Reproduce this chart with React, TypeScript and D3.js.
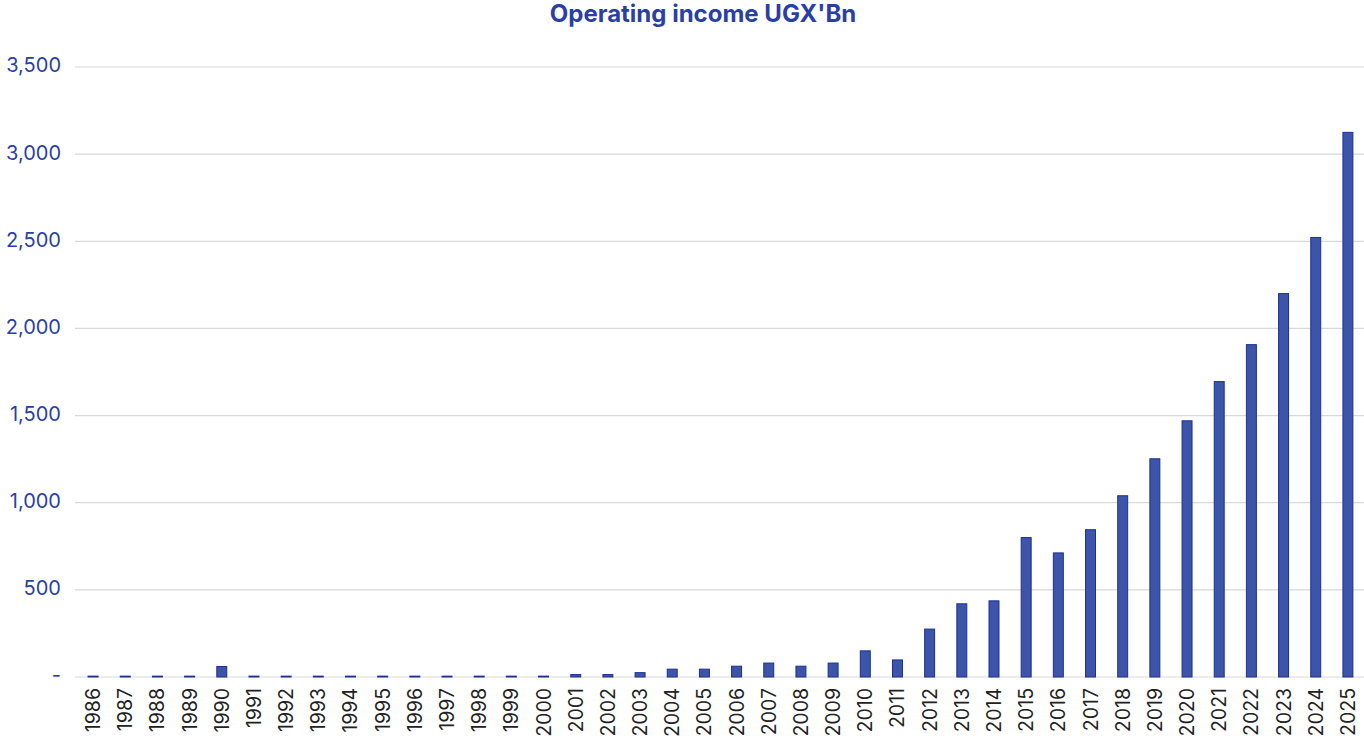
import * as d3 from 'd3';
import React from 'react';

const years = d3.range(1986, 2026).map(String);
const income = [
    5, 5, 5, 5, 60, 5, 5, 5, 5, 5, 5, 5, 5, 5, 5, 14, 14, 25, 45, 45, 62, 80,
    62, 80, 150, 98, 275, 420, 437, 800, 712, 845, 1040, 1252, 1470, 1695,
    1907, 2200, 2522, 3125,
];
const yTicks = [0, 500, 1000, 1500, 2000, 2500, 3000, 3500];

const width = 1364;
const height = 744;
const marginLeft = 77;
const marginRight = 0;
const baseY = 677;
const topY = 67;

const App = () => {
    const x = d3
        .scaleBand()
        .domain(years)
        .range([marginLeft, width - marginRight])
        .paddingInner(0.69)
        .paddingOuter(0.345);
    const y = d3.scaleLinear().domain([0, 3500]).range([baseY, topY]);
    const fmt = d3.format(',');

    return (
        <svg
            width={width}
            height={height}
            style={{ position: 'absolute', left: 0, top: 0, fontFamily: 'Inter, sans-serif' }}
        >
            <text
                x={703}
                y={22}
                textAnchor="middle"
                fontSize={24}
                fontWeight={700}
                fill="#2a3fa6"
            >
                Operating income UGX'Bn
            </text>
            {yTicks.map((t) => (
                <g key={t}>
                    <line
                        x1={75}
                        x2={width}
                        y1={y(t)}
                        y2={y(t)}
                        stroke="#d9d9d9"
                        strokeWidth={1.2}
                    />
                    <text
                        x={61}
                        y={y(t)}
                        dominantBaseline="middle"
                        textAnchor="end"
                        fontSize={20}
                        fill="#2a3fa6"
                    >
                        {t === 0 ? '-' : fmt(t)}
                    </text>
                </g>
            ))}
            {years.map((yr, i) => (
                <rect
                    key={yr}
                    x={x(yr)}
                    y={y(income[i])}
                    width={x.bandwidth()}
                    height={baseY - y(income[i])}
                    fill="#3c55a8"
                    stroke="#1c2f96"
                    strokeWidth={1}
                />
            ))}
            {years.map((yr) => (
                <text
                    key={yr}
                    transform={`translate(${(x(yr) as number) + x.bandwidth() / 2 + 7},${688}) rotate(-90)`}
                    textAnchor="end"
                    fontSize={19.5}
                    fill="#222"
                >
                    {yr}
                </text>
            ))}
        </svg>
    );
};

export default App;
